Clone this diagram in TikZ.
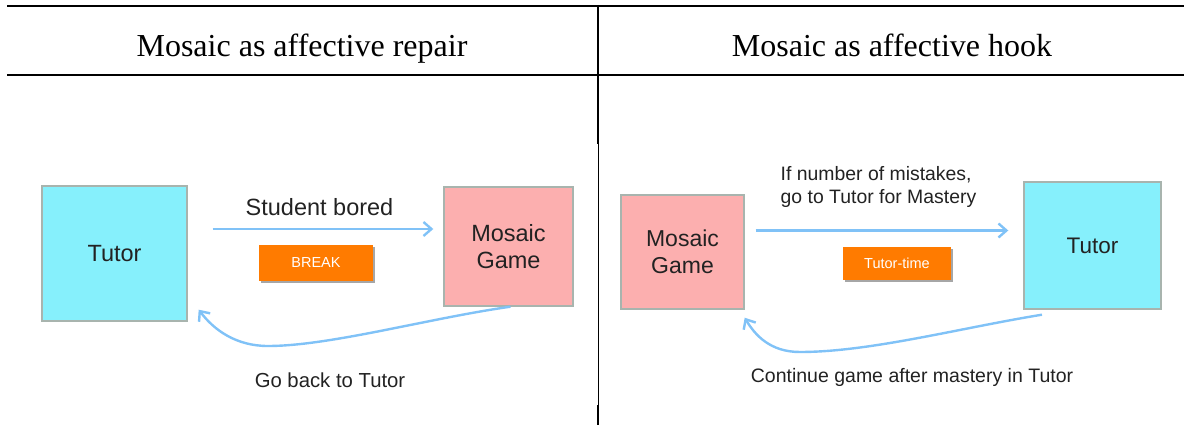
\documentclass[tikz,border=0pt]{standalone}
\usepackage{fontspec}
\setmainfont{Liberation Serif}
\newfontfamily\diagfont{Liberation Sans}
\usetikzlibrary{arrows.meta,calc}

\definecolor{tutorcyan}{HTML}{86F0FC}
\definecolor{gamepink}{HTML}{FCAFAF}
\definecolor{boxedge}{HTML}{A8B4AE}
\definecolor{flowblue}{HTML}{80C2F7}
\definecolor{tagorange}{HTML}{FF7B00}
\definecolor{inktext}{HTML}{222222}

\tikzset{
  rule/.style={line width=2pt, black},
  heading/.style={anchor=base, inner sep=0pt, font=\fontsize{32}{36}\selectfont},
  stage/.style={draw=boxedge, line width=1.4pt, inner sep=0pt, align=center,
    text=inktext, font=\diagfont\fontsize{23.5}{27}\selectfont},
  tutorbox/.style={stage, fill=tutorcyan},
  gamebox/.style={stage, fill=gamepink},
  tag/.style={fill=tagorange, inner sep=0pt, text=white,
    font=\diagfont\fontsize{14.5}{16}\selectfont},
  caption/.style={anchor=base, inner sep=0pt, text=inktext, font=\diagfont},
  flow/.style={draw=flowblue, line width=2.4pt,
    -{Straight Barb[length=8pt,width=14pt,line width=2.4pt]}},
}

\begin{document}
\begin{tikzpicture}[x=1pt, y=-1pt]
\useasboundingbox (0,0) rectangle (1184,425);

% table rules
\draw[rule] (7,6) -- (1184,6);
\draw[rule] (7,75) -- (1184,75);
\draw[line width=2pt] (597.7,5) -- (597.7,144);
\draw[line width=1.1pt] (598.3,143.5) -- (598.3,405.5);
\draw[line width=2pt] (597.7,405) -- (597.7,425);

% column headings
\node[heading] (headL) at (302,57) {Mosaic as affective repair};
\node[heading] (headR) at (892,57) {Mosaic as affective hook};

% ---- left diagram: repair ----
\node[tutorbox, minimum width=145pt, minimum height=135pt] (tutorL) at (114.5,253.5) {Tutor};
\node[gamebox, minimum width=129pt, minimum height=119pt] (gameL) at (508.5,246.5) {Mosaic\\Game};

\fill[gray!70] (261,247) rectangle (375,283);
\node[tag, minimum width=114pt, minimum height=36pt] (breakL) at (316,263) {BREAK};

\node[caption, font=\diagfont\fontsize{23.5}{27}\selectfont] (boredL) at (319.5,215) {Student bored};
\node[caption, font=\diagfont\fontsize{20.3}{24}\selectfont] (backL) at (330,387) {Go back to Tutor};

\draw[flow, shorten <=25pt, shorten >=10pt] (tutorL.east |- 0,229) -- (gameL.west |- 0,229);

\coordinate (backTipL) at ([shift={(11,-12)}]tutorL.south east);
\coordinate (backLowL) at (268,346);
\draw[flow] ([xshift=2pt]gameL.south)
  .. controls (430,318) and (330,346) .. (backLowL)
  .. controls (236,346) and (214,330) .. (backTipL);

% ---- right diagram: hook ----
\node[gamebox, minimum width=123pt, minimum height=114pt, font=\diagfont\fontsize{23}{27}\selectfont] (gameR) at (682.5,252) {Mosaic\\Game};
\node[tutorbox, minimum width=137pt, minimum height=127pt, font=\diagfont\fontsize{22.5}{27}\selectfont] (tutorR) at (1092.5,245.5) {Tutor};

\fill[gray!70] (845,249) rectangle (953,282);
\node[tag, minimum width=108pt, minimum height=33pt] (timeR) at (897,263.5) {Tutor-time};

\node[caption, anchor=base west, font=\diagfont\fontsize{19.4}{23.5}\selectfont] (ruleR1) at (780.5,180.7) {If number of mistakes,};
\node[caption, anchor=base west, font=\diagfont\fontsize{19.4}{23.5}\selectfont] (ruleR2) at (780.5,204) {go to Tutor for Mastery};
\node[caption, font=\diagfont\fontsize{19.5}{23}\selectfont] (contR) at (912,382) {Continue game after mastery in Tutor};

\draw[flow, shorten <=11pt, shorten >=15pt] (gameR.east |- 0,230.5) -- (tutorR.west |- 0,230.5);

\coordinate (contStartR) at ([shift={(-50.5,5)}]tutorR.south);
\coordinate (contTipR) at ([shift={(0,8)}]gameR.south east);
\coordinate (contLowR) at (800,352);
\draw[flow] (contStartR)
  .. controls (960,328) and (870,352) .. (contLowR)
  .. controls (770,352) and (755,335) .. (contTipR);
\end{tikzpicture}
\end{document}
